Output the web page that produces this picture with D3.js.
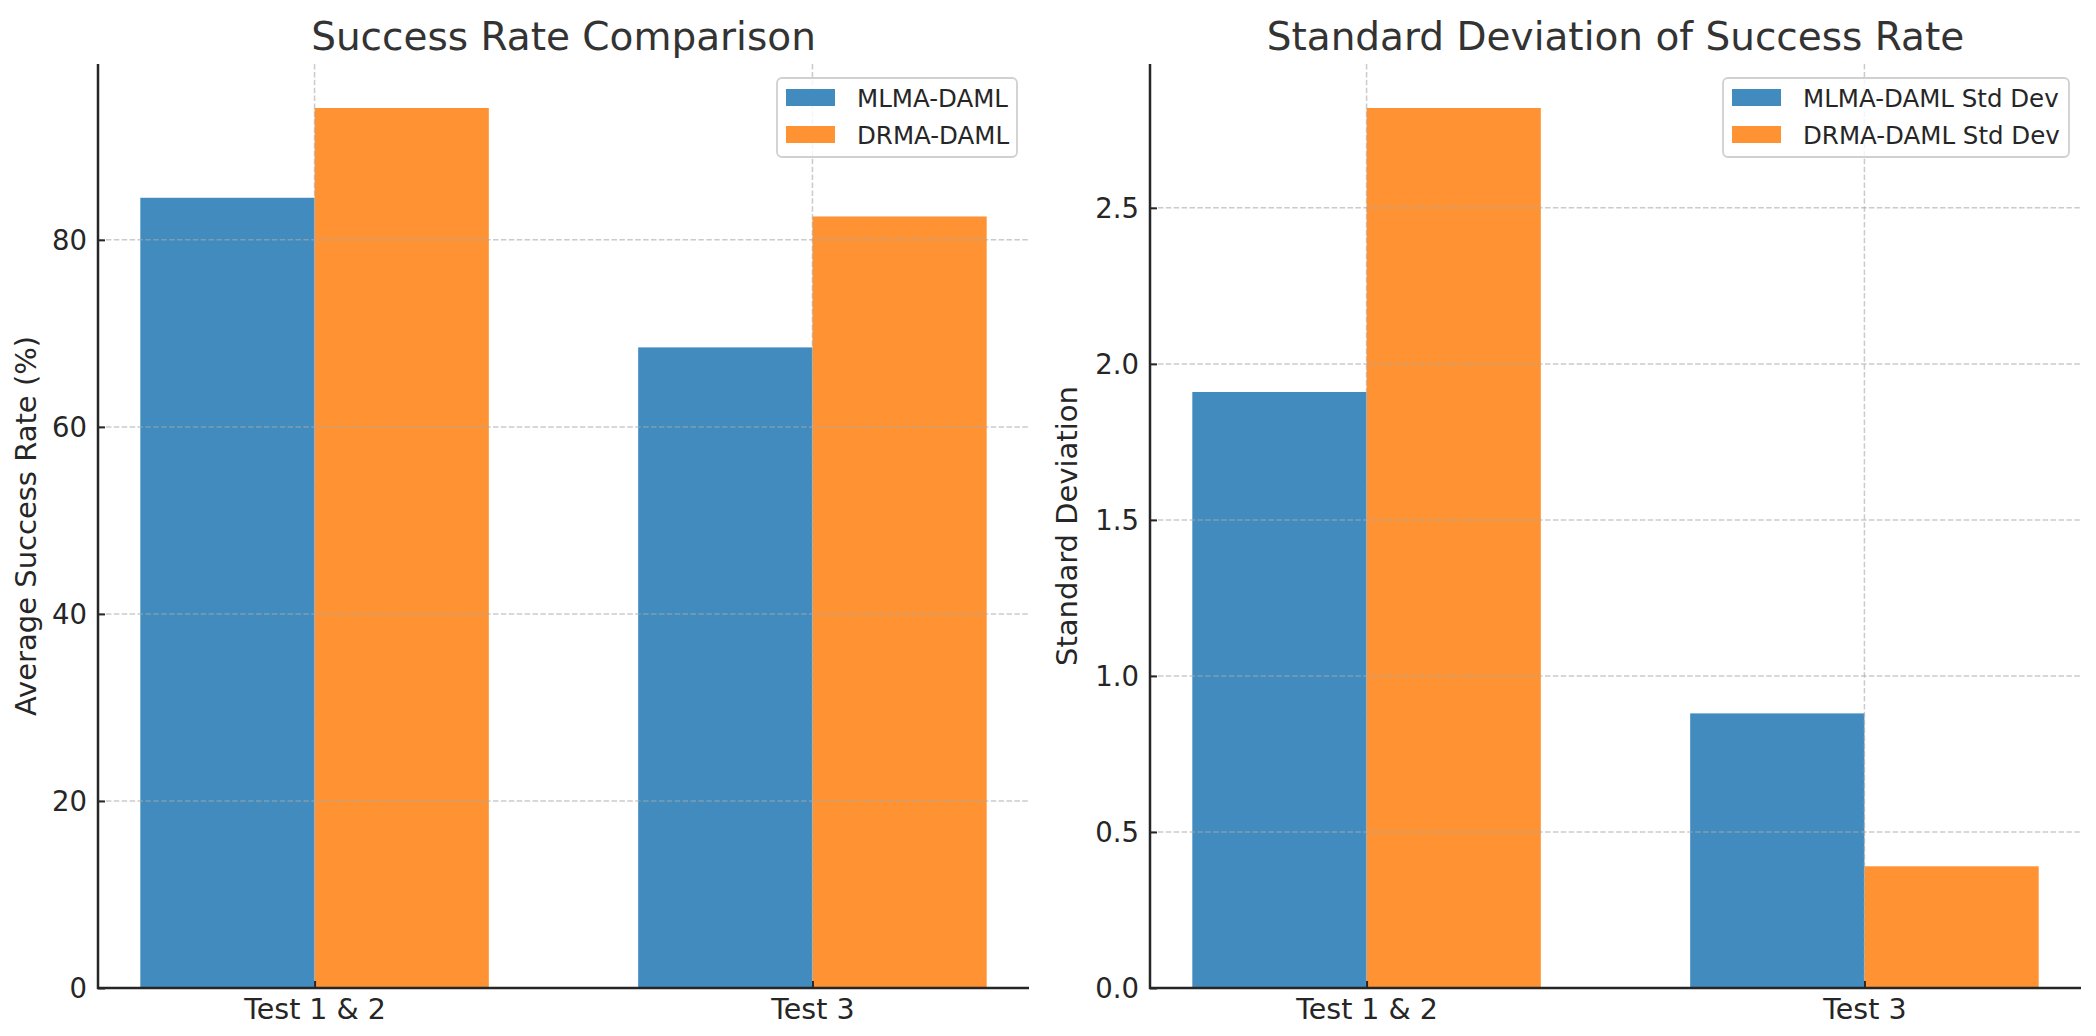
<!DOCTYPE html>
<html>
<head>
<meta charset="utf-8">
<script src="https://cdn.jsdelivr.net/npm/d3@7"></script>
<style>
  html, body { margin: 0; padding: 0; background: #fff; }
  svg { display: block; }
  text { font-family: "DejaVu Sans", sans-serif; }
</style>
</head>
<body>
<svg id="chart" width="2096" height="1036"></svg>
<script>
// ---- data ----
const categories = ["Test 1 & 2", "Test 3"];
const mlmaRate = [84.5, 68.5];
const drmaRate = [94.1, 82.5];
const mlmaStd = [1.91, 0.88];
const drmaStd = [2.82, 0.39];
const rateTicks = [0, 20, 40, 60, 80];
const stdTicks = [0, 0.5, 1.0, 1.5, 2.0, 2.5];
const rateLegend = ["MLMA-DAML", "DRMA-DAML"];
const stdLegend = ["MLMA-DAML Std Dev", "DRMA-DAML Std Dev"];

// ---- style ----
const colors = ["#418bbf", "#ff9232"];
const barWidth = 0.35;
const ink = "#262626";

const svg = d3.select("#chart");
svg.append("rect").attr("width", 2096).attr("height", 1036).attr("fill", "#fff");

function panel(opts) {
  const { left, right, top, bottom } = opts;
  const g = svg.append("g");
  const n = categories.length;
  const lo = -barWidth, hi = (n - 1) + barWidth;
  const m = (hi - lo) * 0.05;
  const x = d3.scaleLinear().domain([lo - m, hi + m]).range([left, right]);
  const ymax = d3.max(opts.series.flat()) * 1.05;
  const y = d3.scaleLinear().domain([0, ymax]).range([bottom, top]);

  // bars
  opts.series.forEach((vals, si) => {
    const off = si === 0 ? -barWidth / 2 : barWidth / 2;
    g.append("g").selectAll("rect").data(vals).join("rect")
      .attr("x", (d, i) => x(i + off - barWidth / 2))
      .attr("width", x(barWidth) - x(0))
      .attr("y", d => y(d))
      .attr("height", d => y(0) - y(d))
      .attr("fill", colors[si]);
  });

  // grid (dashed, over bars)
  const grid = g.append("g").attr("stroke", "#a8a8a8").attr("stroke-opacity", 0.6)
    .attr("stroke-width", 1.5).attr("stroke-dasharray", "5.5,2.4");
  grid.selectAll("line.h").data(opts.ticks).join("line").attr("class", "h")
    .attr("x1", left).attr("x2", right)
    .attr("y1", d => y(d)).attr("y2", d => y(d));
  grid.selectAll("line.v").data(d3.range(n)).join("line").attr("class", "v")
    .attr("x1", d => x(d)).attr("x2", d => x(d))
    .attr("y1", top).attr("y2", bottom);

  // y axis
  const yAxis = d3.axisLeft(y).tickValues(opts.ticks).tickFormat(opts.fmt)
    .tickSizeInner(-7).tickSizeOuter(0).tickPadding(11);
  const ya = g.append("g").attr("transform", `translate(${left},0)`).call(yAxis);
  ya.select(".domain").remove();
  ya.selectAll(".tick line").attr("stroke", ink).attr("stroke-width", 2);
  ya.selectAll(".tick text").attr("fill", ink).attr("font-size", 27.5)
    .attr("font-family", "DejaVu Sans").attr("dy", "0.35em");

  // x axis
  const xAxis = d3.axisBottom(x).tickValues(d3.range(n)).tickFormat(i => categories[i])
    .tickSizeInner(-7).tickSizeOuter(0).tickPadding(10);
  const xa = g.append("g").attr("transform", `translate(0,${bottom})`).call(xAxis);
  xa.select(".domain").remove();
  xa.selectAll(".tick line").attr("stroke", ink).attr("stroke-width", 2);
  xa.selectAll(".tick text").attr("fill", ink).attr("font-size", 28.5)
    .attr("font-family", "DejaVu Sans").attr("dy", "0").attr("y", 31);

  // spines
  g.append("line").attr("x1", left).attr("x2", left).attr("y1", top).attr("y2", bottom + 1)
    .attr("stroke", ink).attr("stroke-width", 2.5);
  g.append("line").attr("x1", left - 1).attr("x2", right).attr("y1", bottom).attr("y2", bottom)
    .attr("stroke", ink).attr("stroke-width", 2.5);

  // title
  g.append("text").attr("x", (left + right) / 2).attr("y", 50)
    .attr("text-anchor", "middle").attr("font-size", 39).attr("fill", "#333")
    .text(opts.title);

  // y label
  g.append("text")
    .attr("transform", `translate(${opts.ylabelX},${(top + bottom) / 2}) rotate(-90)`)
    .attr("text-anchor", "middle").attr("font-size", 29).attr("fill", ink)
    .text(opts.ylabel);

  // legend
  const lg = g.append("g");
  const lw = opts.legendW, lh = 79;
  const lx = right - 12 - lw, ly = top + 14;
  lg.append("rect").attr("x", lx).attr("y", ly).attr("width", lw).attr("height", lh)
    .attr("rx", 5).attr("fill", "#fff").attr("fill-opacity", 0.8)
    .attr("stroke", "#d0d0d0").attr("stroke-width", 1.8);
  opts.legend.forEach((name, i) => {
    const cy = ly + 19.5 + i * 37;
    lg.append("rect").attr("x", lx + 9).attr("y", cy - 8.5).attr("width", 49).attr("height", 17)
      .attr("fill", colors[i]);
    lg.append("text").attr("x", lx + 80).attr("y", cy + 9)
      .attr("font-size", 24.5).attr("fill", ink).text(name);
  });
}

panel({
  left: 98, right: 1029, top: 64, bottom: 988,
  series: [mlmaRate, drmaRate], ticks: rateTicks, fmt: d3.format("d"),
  title: "Success Rate Comparison", ylabel: "Average Success Rate (%)", ylabelX: 36,
  legend: rateLegend, legendW: 240
});
panel({
  left: 1150, right: 2081, top: 64, bottom: 988,
  series: [mlmaStd, drmaStd], ticks: stdTicks, fmt: d3.format(".1f"),
  title: "Standard Deviation of Success Rate", ylabel: "Standard Deviation", ylabelX: 1077,
  legend: stdLegend, legendW: 346
});
</script>
</body>
</html>
